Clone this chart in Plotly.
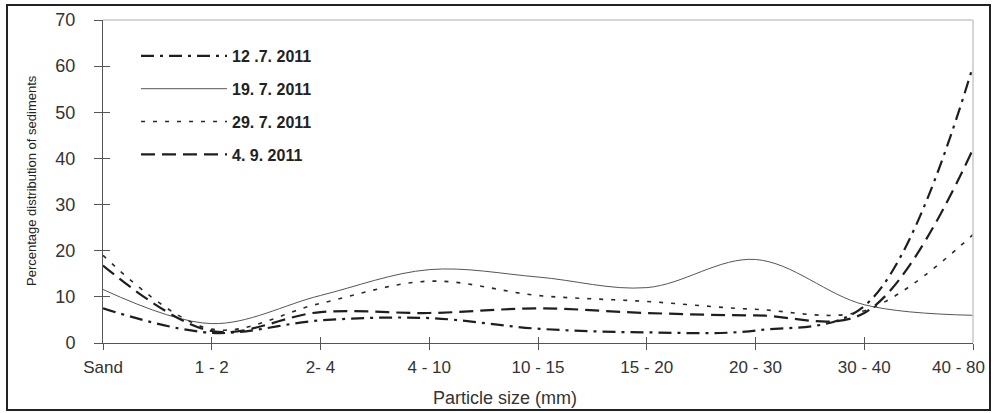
import plotly.graph_objects as go

categories = ["Sand", "1 - 2", "2- 4", "4 - 10", "10 - 15", "15 - 20", "20 - 30", "30 - 40", "40 - 80"]
s_12_7 = [7.5, 2.2, 4.9, 5.4, 3.1, 2.3, 2.7, 8.0, 60.0]
s_19_7 = [11.6, 4.2, 10.3, 15.9, 14.3, 12.0, 18.1, 8.3, 6.0]
s_29_7 = [19.0, 3.0, 8.6, 13.4, 10.3, 9.0, 7.3, 7.0, 23.5]
s_4_9 = [16.8, 2.6, 6.7, 6.5, 7.5, 6.5, 6.0, 6.5, 42.0]
names = ["12 .7. 2011", "19. 7. 2011", "29. 7. 2011", "4. 9. 2011"]
y_ticks = [0, 10, 20, 30, 40, 50, 60, 70]

styles = [
    dict(color="#1e1e1e", width=2.2, dash="13px,6px,3px,6px"),
    dict(color="#555555", width=1, dash="solid"),
    dict(color="#2a2a2a", width=1.6, dash="4px,8px"),
    dict(color="#1e1e1e", width=2.2, dash="14px,7px"),
]

fig = go.Figure()
for i, (nm, vals) in enumerate(zip(names, [s_12_7, s_19_7, s_29_7, s_4_9])):
    fig.add_trace(go.Scatter(
        x=list(range(len(categories))), y=vals, name=nm, mode="lines",
        line=dict(shape="spline", smoothing=1.0, **styles[i]),
        legendgroup="g%d" % i, hoverinfo="skip",
    ))

# invisible trace for secondary (inside tick) axes
fig.add_trace(go.Scatter(x=[0], y=[0], xaxis="x2", yaxis="y2", mode="markers",
                         marker=dict(opacity=0), showlegend=False, hoverinfo="skip"))

# the last category label is kept inside the frame (as in the reference)
tick_text = list(categories)
tick_text[-1] = ""

font_family = "Liberation Sans, Arial, sans-serif"
L, R, T, B = 103, 24, 20, 70
W, H = 997, 413
pw, ph = W - L - R, H - T - B

def px_x(p):
    return (p - L) / pw

def px_y(p):
    return (H - B - p) / ph

fig.update_layout(
    width=W, height=H,
    margin=dict(l=L, r=R, t=T, b=B, autoexpand=False),
    paper_bgcolor="white", plot_bgcolor="white",
    font=dict(family=font_family, color="#333333"),
    showlegend=True,
    legend=dict(x=px_x(136), y=px_y(39), xanchor="left", yanchor="top",
                bgcolor="rgba(0,0,0,0)", itemwidth=86, tracegroupgap=9,
                font=dict(family=font_family, size=16, color="#222222", weight="bold")),
    xaxis=dict(range=[0, len(categories) - 1], tickvals=list(range(len(categories))),
               ticktext=tick_text, showgrid=False, zeroline=False, automargin=False,
               showline=True, linecolor="#555555", linewidth=1,
               ticks="outside", ticklen=6, tickcolor="#555555",
               tickfont=dict(size=17, color="#333333"), ticklabelstandoff=3),
    yaxis=dict(range=[0, 70], tickvals=y_ticks, showgrid=False, zeroline=False,
               automargin=False,
               showline=True, linecolor="#555555", linewidth=1,
               ticks="outside", ticklen=8, tickcolor="#555555",
               tickfont=dict(size=18, color="#333333"), ticklabelstandoff=15),
    xaxis2=dict(range=[0, len(categories) - 1], tickvals=list(range(len(categories))),
                overlaying="x", showticklabels=False, showgrid=False, zeroline=False,
                automargin=False,
                ticks="inside", ticklen=6, tickcolor="#555555", showline=False),
    yaxis2=dict(range=[0, 70], tickvals=y_ticks, overlaying="y", showticklabels=False,
                showgrid=False, zeroline=False, ticks="inside", ticklen=7,
                automargin=False,
                tickcolor="#555555", showline=False),
    shapes=[
        dict(type="line", xref="paper", yref="paper", x0=0, x1=1, y0=1, y1=1,
             line=dict(color="#c8c8c8", width=1.5)),
        dict(type="line", xref="paper", yref="paper", x0=1, x1=1, y0=0, y1=1,
             line=dict(color="#c8c8c8", width=1.5)),
        dict(type="rect", xref="paper", yref="paper",
             x0=px_x(7), x1=px_x(990), y0=px_y(410), y1=px_y(5),
             line=dict(color="#222222", width=2), fillcolor="rgba(0,0,0,0)", layer="above"),
    ],
    annotations=[
        dict(text=categories[-1], xref="x", yref="paper",
             x=len(categories) - 1, y=px_y(367), xshift=14, showarrow=False,
             font=dict(size=17, color="#333333"), xanchor="right", yanchor="middle"),
        dict(text="Percentage distribution of sediments", xref="paper", yref="paper",
             x=px_x(31), y=px_y(181), textangle=-90, showarrow=False,
             font=dict(size=13, color="#222222"), xanchor="center", yanchor="middle"),
        dict(text="Particle size (mm)", xref="paper", yref="paper",
             x=px_x(505), y=px_y(398), showarrow=False,
             font=dict(size=18, color="#333333"), xanchor="center", yanchor="middle"),
    ],
)

fig.write_html("out.html", config={"displayModeBar": False},
               post_script="document.body.style.margin='0';")
